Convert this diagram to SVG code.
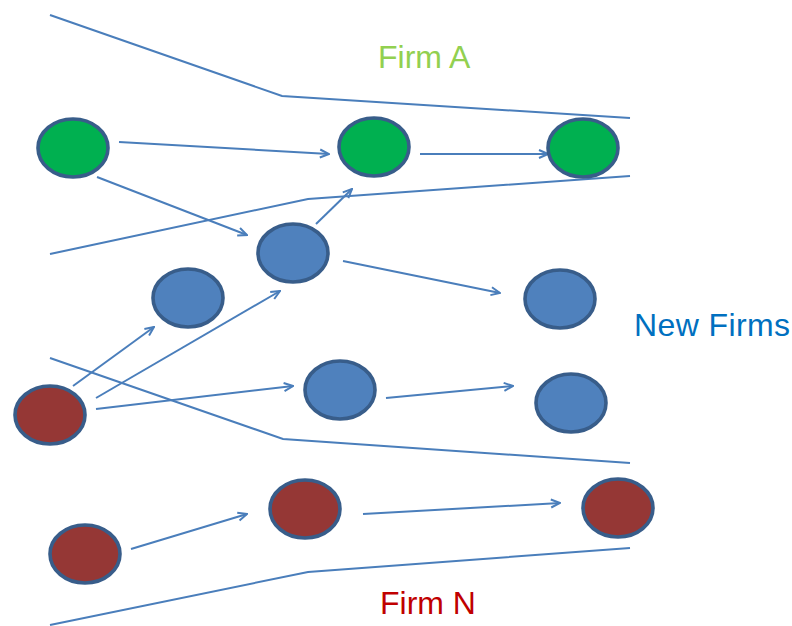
<svg xmlns="http://www.w3.org/2000/svg" width="792" height="626" viewBox="0 0 792 626">
  <style>
    .node { stroke: #385d8a; stroke-width: 3.6; }
    .green { fill: #00b050; }
    .blue { fill: #4f81bd; }
    .red { fill: #953735; }
    .edge { fill: none; stroke: #4a7ebb; stroke-width: 2; }
    .arrow { marker-end: url(#head); }
    .label { font-family: "Liberation Sans", Arial, sans-serif; font-size: 32px; }
  </style>
  <defs>
    <marker id="head" viewBox="0 0 12 12" refX="11" refY="6" markerWidth="12" markerHeight="12" markerUnits="userSpaceOnUse" orient="auto">
      <path d="M2,2 L11,6 L2,10" fill="none" stroke="#4a7ebb" stroke-width="2"/>
    </marker>
  </defs>

  <rect width="792" height="626" fill="#ffffff"/>

  <g id="connectors">
    <!-- band boundaries -->
    <polyline class="edge" points="50,15 282,96 630,118"/>
    <polyline class="edge" points="50,254 308,199 630,176"/>
    <polyline class="edge" points="50,358 283,439 630,463"/>
    <polyline class="edge" points="50,625 308,572 630,548"/>
    <!-- firm transitions -->
    <line class="edge arrow" x1="119" y1="142" x2="329" y2="154"/>
    <line class="edge arrow" x1="420" y1="154" x2="548" y2="154"/>
    <line class="edge arrow" x1="97" y1="177" x2="247" y2="235"/>
    <line class="edge arrow" x1="316" y1="224" x2="352" y2="189"/>
    <line class="edge arrow" x1="343" y1="261" x2="500" y2="293"/>
    <line class="edge arrow" x1="73" y1="386" x2="154" y2="327"/>
    <line class="edge arrow" x1="96" y1="398" x2="280" y2="291"/>
    <line class="edge arrow" x1="96" y1="409" x2="293" y2="386"/>
    <line class="edge arrow" x1="386" y1="398" x2="513" y2="386"/>
    <line class="edge arrow" x1="131" y1="549" x2="247" y2="514"/>
    <line class="edge arrow" x1="363" y1="514" x2="560" y2="503"/>
  </g>

  <g id="g1"><ellipse class="node green" cx="73" cy="148" rx="35" ry="29"/></g>
  <g id="g2"><ellipse class="node green" cx="374" cy="147" rx="35" ry="29"/></g>
  <g id="g3"><ellipse class="node green" cx="583" cy="148" rx="35" ry="29"/></g>

  <g id="b1"><ellipse class="node blue" cx="293" cy="253" rx="35" ry="29"/></g>
  <g id="b2"><ellipse class="node blue" cx="188" cy="298" rx="35" ry="29"/></g>
  <g id="b3"><ellipse class="node blue" cx="340" cy="390" rx="35" ry="29"/></g>
  <g id="b4"><ellipse class="node blue" cx="560" cy="299" rx="35" ry="29"/></g>
  <g id="b5"><ellipse class="node blue" cx="571" cy="403" rx="35" ry="29"/></g>

  <g id="r1"><ellipse class="node red" cx="50" cy="415" rx="35" ry="29"/></g>
  <g id="r2"><ellipse class="node red" cx="305" cy="509" rx="35" ry="29"/></g>
  <g id="r3"><ellipse class="node red" cx="85" cy="554" rx="35" ry="29"/></g>
  <g id="r4"><ellipse class="node red" cx="618" cy="508" rx="35" ry="29"/></g>

  <g id="labels">
    <text class="label" x="378" y="68" fill="#92d050">Firm A</text>
    <text class="label" x="634" y="336" fill="#0070c0" textLength="156">New Firms</text>
    <text class="label" x="380" y="614" fill="#c00000">Firm N</text>
  </g>
</svg>
